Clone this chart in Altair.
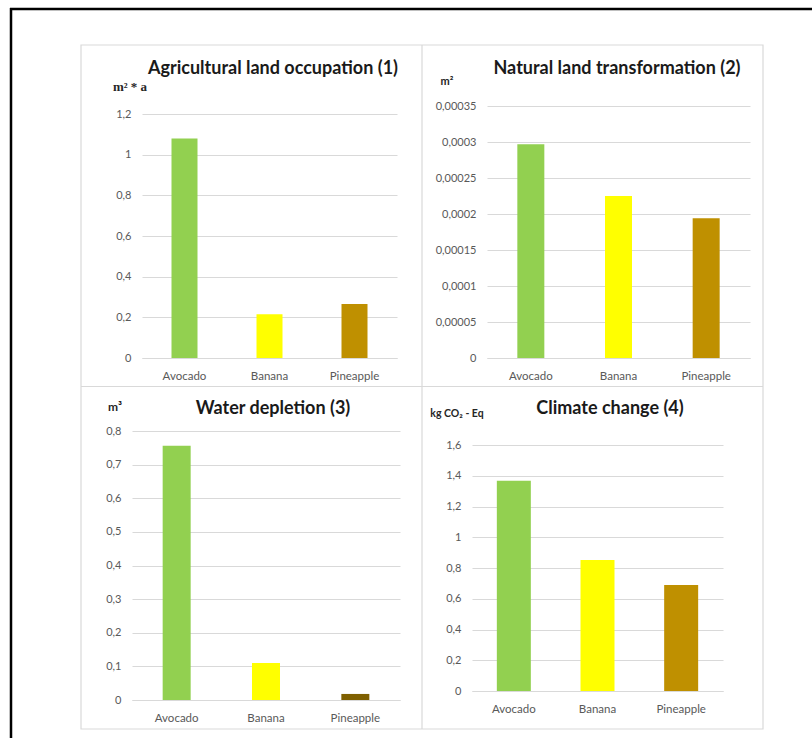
import altair as alt
import pandas as pd

# ---------------- data ----------------
fruits = ["Avocado", "Banana", "Pineapple"]
agri_values = [1.08, 0.215, 0.265]
natural_values = [0.000297, 0.000225, 0.000194]
water_values = [0.756, 0.11, 0.018]
climate_values = [1.367, 0.852, 0.69]

titles = ["Agricultural land occupation (1)", "Natural land transformation (2)",
          "Water depletion (3)", "Climate change (4)"]
units = ["m² * a", "m²", "m³", "kg CO₂ - Eq"]

agri_ticks = [0, 0.2, 0.4, 0.6, 0.8, 1, 1.2]
natural_ticks = [0, 0.00005, 0.0001, 0.00015, 0.0002, 0.00025, 0.0003, 0.00035]
water_ticks = [0, 0.1, 0.2, 0.3, 0.4, 0.5, 0.6, 0.7, 0.8]
climate_ticks = [0, 0.2, 0.4, 0.6, 0.8, 1, 1.2, 1.4, 1.6]

colors_main = ["#92d050", "#ffff00", "#bf9000"]
colors_water = ["#92d050", "#ffff00", "#7f6000"]

# ---------------- layout (pixels) ----------------
W, H = 812, 738
FONT = "Lato"
LABEL_COLOR = "#595959"
GRID = "#d9d9d9"

layouts = [
    dict(xr=[142, 397], yr=[358, 114], bar=26, title=(273, 69),
         unit=(130, 87), ufont="Liberation Serif", usize=13),
    dict(xr=[487, 750], yr=[358, 106], bar=27, title=(617, 69),
         unit=(447, 82), ufont=FONT, usize=11),
    dict(xr=[132, 400], yr=[700, 431], bar=28, title=(273, 409),
         unit=(115, 407), ufont=FONT, usize=12),
    dict(xr=[472, 723], yr=[691, 445], bar=34, title=(610, 409),
         unit=(457, 414), ufont=FONT, usize=10.5),
]

series = [
    (agri_values, agri_ticks, colors_main),
    (natural_values, natural_ticks, colors_main),
    (water_values, water_ticks, colors_water),
    (climate_values, climate_ticks, colors_main),
]


def panel(i):
    values, ticks, colors = series[i]
    L = layouts[i]
    df = pd.DataFrame({"fruit": fruits, "value": values})
    bars = alt.Chart(df).mark_bar(size=L["bar"]).encode(
        x=alt.X(
            "fruit:N", sort=fruits,
            scale=alt.Scale(domain=fruits, range=L["xr"], paddingInner=0, paddingOuter=0),
            axis=alt.Axis(orient="bottom", offset=L["yr"][0] - H, title=None, labelAngle=0,
                          ticks=False, tickSize=0, labelPadding=12, domainColor=GRID,
                          domainWidth=1, grid=False, labelFont=FONT, labelFontSize=11.5,
                          labelColor=LABEL_COLOR),
        ),
        y=alt.Y(
            "value:Q",
            scale=alt.Scale(domain=[0, ticks[-1]], range=L["yr"], nice=False, zero=True),
            axis=alt.Axis(orient="left", offset=-L["xr"][0], values=ticks, title=None,
                          domain=False, ticks=False, tickSize=0, labelPadding=11,
                          grid=True, gridColor=GRID, gridWidth=1, labelFont=FONT,
                          labelFontSize=11, labelColor=LABEL_COLOR, labelOverlap=False,
                          labelFlush=False,
                          labelExpr="replace(toString(datum.value), '.', ',')"),
        ),
        color=alt.Color("fruit:N", scale=alt.Scale(domain=fruits, range=colors), legend=None),
    )
    title = alt.Chart(pd.DataFrame({"t": [titles[i]]})).mark_text(
        font=FONT, fontSize=18, fontWeight="bold", color="#1a1a1a",
        align="center", baseline="middle",
    ).encode(x=alt.value(L["title"][0]), y=alt.value(L["title"][1]), text="t:N")
    unit = alt.Chart(pd.DataFrame({"t": [units[i]]})).mark_text(
        font=L["ufont"], fontSize=L["usize"], fontWeight="bold", color="#262626",
        align="center", baseline="middle",
    ).encode(x=alt.value(L["unit"][0]), y=alt.value(L["unit"][1]), text="t:N")
    return [bars, title, unit]


one = pd.DataFrame({"k": [0]})
box = alt.Chart(one).mark_rect(fillOpacity=0, stroke=GRID, strokeWidth=1.2).encode(
    x=alt.value(81), x2=alt.value(763), y=alt.value(45), y2=alt.value(729))
vdiv = alt.Chart(one).mark_rule(color=GRID, strokeWidth=1.2).encode(
    x=alt.value(422), y=alt.value(45), y2=alt.value(729))
hdiv = alt.Chart(one).mark_rule(color=GRID, strokeWidth=1.2).encode(
    x=alt.value(81), x2=alt.value(763), y=alt.value(386.5))
frame_left = alt.Chart(one).mark_rule(color="black", strokeWidth=2.5).encode(
    x=alt.value(11), y=alt.value(8), y2=alt.value(738))
frame_top = alt.Chart(one).mark_rule(color="black", strokeWidth=2.5).encode(
    x=alt.value(10), x2=alt.value(812), y=alt.value(9))

layers = [box, vdiv, hdiv, frame_left, frame_top]
for i in range(4):
    layers += panel(i)

chart = alt.layer(*layers).resolve_scale(
    x="independent", y="independent", color="independent"
).resolve_axis(
    x="independent", y="independent"
).properties(
    width=W, height=H, padding=0,
    autosize=alt.AutoSizeParams(type="none"),
    background="white",
).configure_view(stroke=None)

chart.save("out.html", embed_options={"renderer": "svg", "actions": False})
